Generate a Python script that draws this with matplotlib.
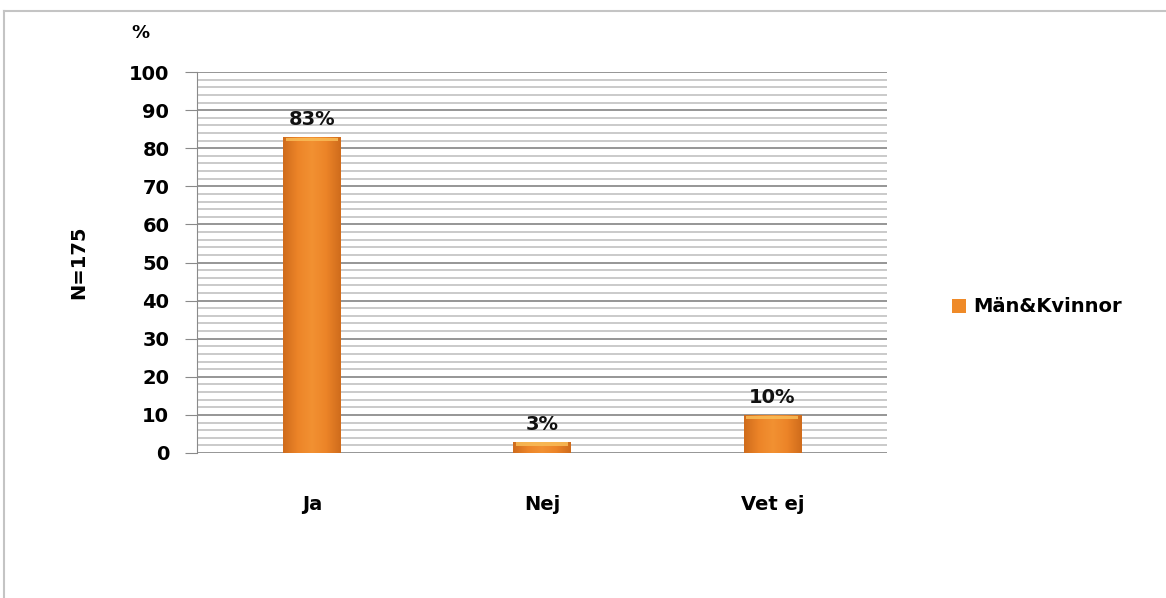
import numpy as np
import matplotlib
matplotlib.use('Agg')
import matplotlib.pyplot as plt
from matplotlib.colors import LinearSegmentedColormap
from matplotlib.lines import Line2D

# survey answers, share of respondents in percent
categories = ['Ja', 'Nej', 'Vet ej']
values = [83, 3, 10]
labels = ['83%', '3%', '10%']
series_name = 'Män&Kvinnor'
y_ticks = [0, 10, 20, 30, 40, 50, 60, 70, 80, 90, 100]

plt.rcParams['font.family'] = 'DejaVu Sans'
plt.rcParams['font.weight'] = 'bold'

fig = plt.figure(figsize=(11.66, 5.98), dpi=100)
ax = fig.add_axes([0.169, 0.2425, 0.592, 0.637])

# outer chart frame
fig.add_artist(Line2D([4 / 1166, 1.0], [1 - 11 / 598] * 2, color='#c4c4c4', lw=1.5))
fig.add_artist(Line2D([4 / 1166] * 2, [0.0, 1 - 11 / 598], color='#c4c4c4', lw=1.5))

x = np.arange(len(categories))
bars = ax.bar(x, values, width=0.25, color='#ef8a28', edgecolor='none',
              label=series_name, zorder=3)

# shaded fill for each bar: darker edges, lighter middle and top
orange = LinearSegmentedColormap.from_list(
    'orange', ['#d06c1c', '#ec8428', '#f29132', '#ec8428', '#d06c1c'])
prof = np.linspace(0, 1, 64)[None, :].repeat(32, axis=0)
for b in bars:
    x0, y0 = b.get_x(), b.get_y()
    w, h = b.get_width(), b.get_height()
    im = ax.imshow(prof, cmap=orange, extent=(x0, x0 + w, y0, y0 + h),
                   aspect='auto', origin='lower', zorder=3.5)
    im.set_clip_path(b)
    cap = min(1.2, h * 0.35)
    ax.fill_between([x0 + w * 0.05, x0 + w * 0.95], y0 + h - cap, y0 + h - 0.2,
                    color='#f9bd58', alpha=0.85, lw=0, zorder=4)

for xi, v, lab in zip(x, values, labels):
    ax.text(xi, v + 4.5, lab, ha='center', va='center', fontsize=14,
            fontweight='bold', color='#111111')

ax.set_xlim(-0.5, 2.5)
ax.set_ylim(0, 100)
ax.set_xticks(x)
ax.set_xticklabels(categories, fontsize=14, fontweight='bold')
ax.set_yticks(y_ticks)
ax.set_yticklabels([str(t) for t in y_ticks], fontsize=14, fontweight='bold')
ax.set_yticks(np.arange(0, 101, 2), minor=True)

ax.grid(axis='y', which='major', color='#969696', lw=1.4, zorder=0)
ax.grid(axis='y', which='minor', color='#c6c6c6', lw=1.3, zorder=0)
ax.tick_params(axis='x', length=0, pad=30)
ax.tick_params(axis='y', which='major', length=9, color='#8a8a8a', pad=11)
ax.tick_params(axis='y', which='minor', length=0)

for s in ['top', 'right', 'bottom']:
    ax.spines[s].set_visible(False)
ax.spines['left'].set_color('#8a8a8a')

ax.set_ylabel('N=175', fontsize=14, fontweight='bold')
ax.yaxis.set_label_coords(-0.158, 0.5)
fig.text(140 / 1166, 1 - 33 / 598, '%', fontsize=13, fontweight='bold',
         ha='center', va='center')

ax.legend(loc='center left', bbox_to_anchor=(952 / 1166, 1 - 307 / 598),
          bbox_transform=fig.transFigure, frameon=False, fontsize=14,
          handlelength=0.7, handleheight=0.7, handletextpad=0.4,
          borderpad=0, borderaxespad=0)

fig.savefig('out.png', dpi=100)
